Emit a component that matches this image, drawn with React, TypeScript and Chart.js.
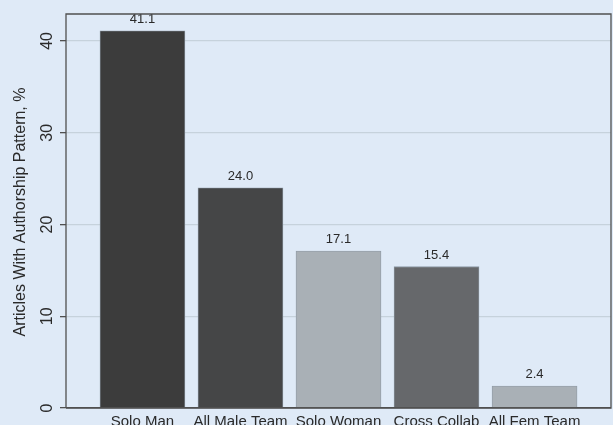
import React, { useEffect, useRef } from "react";
import { Chart, registerables } from "chart.js";

Chart.register(...registerables);

const categories = ["Solo Man", "All Male Team", "Solo Woman", "Cross Collab", "All Fem Team"];
const values = [41.1, 24.0, 17.1, 15.4, 2.4];
const barColors = ["#3c3c3c", "#454647", "#a9b0b6", "#66686b", "#a9b0b6"];
const yTicks = [0, 10, 20, 30, 40];
const yTitle = "Articles With Authorship Pattern, %";

const BG = "#dfeaf7";
const FONT = "'Liberation Sans', Arial, sans-serif";
const TEXT = "#2a2a2a";

export default function App() {
  const ref = useRef<HTMLCanvasElement | null>(null);
  useEffect(() => {
    document.body.style.margin = "0";
    document.body.style.background = BG;
    const canvas = ref.current!;
    const bgPlugin = {
      id: "bg",
      beforeDraw(chart: any) {
        const { ctx, width, height } = chart;
        ctx.save();
        ctx.fillStyle = BG;
        ctx.fillRect(0, 0, width, height);
        ctx.restore();
      },
      afterDraw(chart: any) {
        const { ctx, chartArea: a } = chart;
        ctx.save();
        ctx.strokeStyle = "#505050";
        ctx.lineWidth = 1.3;
        ctx.beginPath();
        ctx.moveTo(a.left, a.bottom);
        ctx.lineTo(a.left, a.top);
        ctx.lineTo(a.right, a.top);
        ctx.lineTo(a.right, a.bottom);
        ctx.lineTo(a.left, a.bottom);
        ctx.stroke();
        // y tick labels (rotated)
        const ys = chart.scales.y;
        ctx.fillStyle = TEXT;
        ctx.font = `16px ${FONT}`;
        ctx.textAlign = "center";
        ctx.textBaseline = "middle";
        yTicks.forEach((v) => {
          const py = ys.getPixelForValue(v);
          ctx.save();
          ctx.translate(48, py);
          ctx.rotate(-Math.PI / 2);
          ctx.fillText(String(v), 0, 0);
          ctx.restore();
        });
        // y title
        ctx.save();
        ctx.translate(21, (a.top + a.bottom) / 2 + 1);
        ctx.rotate(-Math.PI / 2);
        ctx.fillText(yTitle, 0, 0);
        ctx.restore();
        ctx.restore();
      },
      afterDatasetsDraw(chart: any) {
        const { ctx } = chart;
        const meta = chart.getDatasetMeta(0);
        ctx.save();
        ctx.fillStyle = TEXT;
        ctx.font = `13px ${FONT}`;
        ctx.textAlign = "center";
        ctx.textBaseline = "alphabetic";
        meta.data.forEach((el: any, i: number) => {
          ctx.fillText(values[i].toFixed(1), el.x, el.y - 8);
        });
        ctx.restore();
      },
    };
    const chart = new Chart(canvas, {
      type: "bar",
      data: {
        datasets: [
          {
            data: values.map((v, i) => ({ x: i, y: v })),
            backgroundColor: barColors,
            borderColor: "#8e9aa6",
            borderWidth: 0.8,
            barThickness: 85,
          },
        ],
      },
      options: {
        animation: false,
        responsive: false,
        devicePixelRatio: 1,
        layout: { padding: { top: 14, right: 2, left: 0, bottom: 0 } },
        plugins: { legend: { display: false }, tooltip: { enabled: false } },
        scales: {
          x: {
            type: "linear",
            offset: false,
            min: -0.78,
            max: 4.78,
            grid: { display: false, drawTicks: false, offset: false },
            border: { display: false },
            afterBuildTicks: (axis: any) => {
              axis.ticks = categories.map((_, i) => ({ value: i }));
            },
            afterFit: (axis: any) => {
              axis.height = 17;
            },
            ticks: {
              autoSkip: false,
              maxRotation: 0,
              minRotation: 0,
              padding: 5,
              color: TEXT,
              font: { family: FONT, size: 15 },
              callback: (v: any) => categories[v] ?? "",
            },
          },
          y: {
            min: 0,
            max: 42.94,
            afterBuildTicks: (axis: any) => {
              axis.ticks = yTicks.map((v) => ({ value: v }));
            },
            afterFit: (axis: any) => {
              axis.width = 66;
            },
            grid: {
              color: (c: any) => (c.tick && c.tick.value === 0 ? "#505050" : "#c6d2dc"),
              lineWidth: 1.3,
              drawTicks: true,
              tickLength: 6,
              tickColor: "#505050",
            },
            border: { display: false },
            ticks: {
              color: "rgba(0,0,0,0)",
              font: { family: FONT, size: 15 },
            },
          },
        },
      },
      plugins: [bgPlugin],
    } as any);
    return () => chart.destroy();
  }, []);
  return <canvas ref={ref} width={613} height={425} style={{ display: "block" }} />;
}
